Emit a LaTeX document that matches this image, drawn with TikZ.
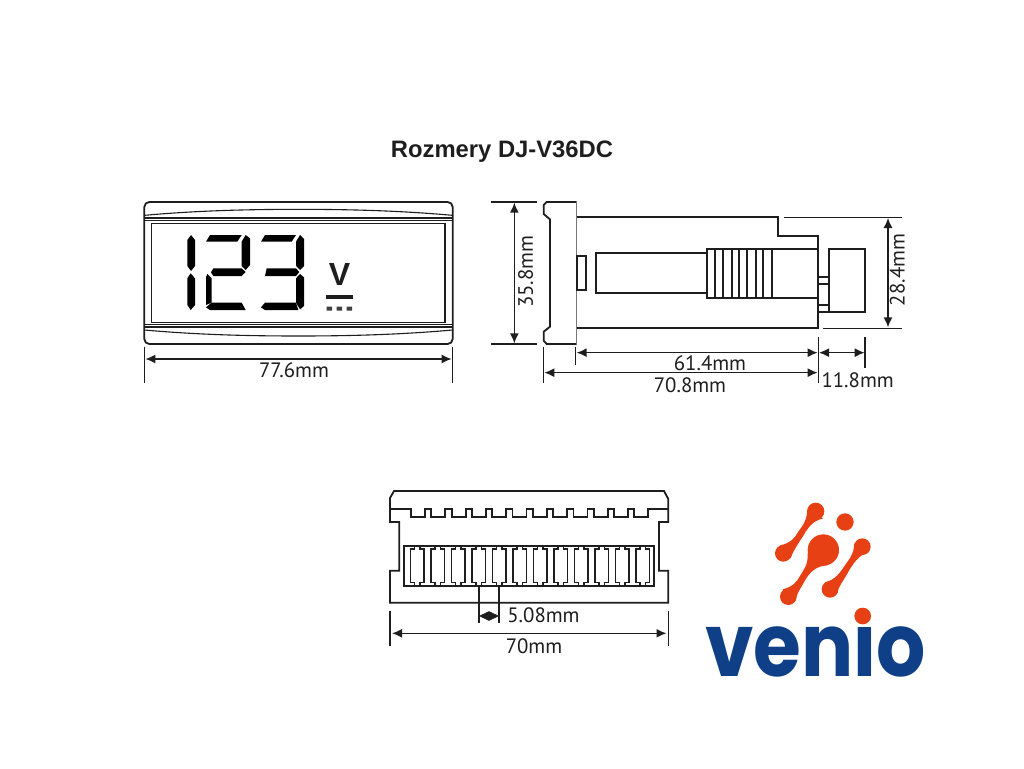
\documentclass[tikz,border=0pt]{standalone}
\usepackage{fontspec}
\usetikzlibrary{arrows.meta}
\setmainfont{Liberation Sans}
\newfontfamily\dimfont{PT Sans}
\newfontfamily\logofont{Poppins}
\definecolor{ink}{HTML}{1E1E1E}
\definecolor{logoorange}{HTML}{E84015}
\definecolor{logoblue}{HTML}{0F3F87}
\tikzset{
  part/.style={draw=ink,line width=1.8pt,line join=miter},
  thin part/.style={draw=ink,line width=1.1pt},
  ext/.style={draw=ink,line width=1.4pt},
  dimline/.style={draw=ink,line width=1.4pt,{Latex[length=10pt,width=9pt]}-{Latex[length=10pt,width=9pt]}},
  dimtext/.style={text=ink,inner sep=0pt,font=\dimfont\fontsize{20.8}{23}\selectfont},
  segment/.style={fill=black,draw=none},
  orange blob/.style={fill=logoorange,draw=none}
}
\begin{document}
\begin{tikzpicture}[x=1pt,y=-1pt]
\useasboundingbox[fill=white] (0,0) rectangle (1024,768);

\node[inner sep=0pt,font=\bfseries\fontsize{23.8}{26}\selectfont,text=ink] (title) at (502,152) {Rozmery DJ-V36DC};

% ---------- front view (coordinates of the first crop)
\begin{scope}[shift={(130,190)},scale=1/3]
  \draw[part,rounded corners=5pt] (43,36) rectangle (968,462);
  \draw[thin part] (43,76) .. controls (200,62) and (350,58) .. (505,58) .. controls (660,58) and (810,62) .. (968,76);
  \draw[thin part] (43,84) -- (968,84);
  \draw[thin part] (43,92) -- (968,92);
  \draw[draw=ink,line width=1.4pt] (65,101) rectangle (945,398);
  \draw[thin part] (43,404) -- (968,404);
  \draw[thin part] (43,411) -- (968,411);
  \draw[thin part] (43,420) .. controls (200,434) and (350,438) .. (505,438) .. controls (660,438) and (810,434) .. (968,420);
  % digits
  \fill[segment] (183,135) -- (195,150) -- (195,228) -- (183,243) -- (172,228) -- (172,150) -- cycle;
  \fill[segment] (182,250) -- (195,265) -- (195,345) -- (182,360) -- (172,345) -- (172,265) -- cycle;
  \fill[segment] (240,135) -- (335,135) -- (322,155) -- (228,155) -- cycle;
  \fill[segment] (347,135) -- (360,145) -- (360,225) -- (347,240) -- (335,228) -- (335,155) -- cycle;
  \fill[segment] (250,235) -- (335,235) -- (347,246) -- (335,258) -- (250,258) -- (243,247) -- cycle;
  \fill[segment] (232,252) -- (245,265) -- (245,338) -- (228,345) -- (228,262) -- cycle;
  \fill[segment] (228,352) -- (245,338) -- (335,338) -- (347,360) -- (240,360) -- cycle;
  \fill[segment] (393,155) -- (405,135) -- (498,135) -- (485,155) -- cycle;
  \fill[segment] (510,135) -- (522,147) -- (522,228) -- (510,240) -- (498,228) -- (498,155) -- cycle;
  \fill[segment] (405,258) -- (410,235) -- (498,235) -- (508,246) -- (498,258) -- cycle;
  \fill[segment] (510,252) -- (522,262) -- (522,348) -- (510,358) -- (498,338) -- (498,265) -- cycle;
  \fill[segment] (393,352) -- (405,338) -- (498,338) -- (505,360) -- (405,360) -- cycle;
  \node[inner sep=0pt,font=\bfseries\fontsize{32}{34}\selectfont,text=ink] (voltV) at (629,253) {V};
  \fill[ink] (588,315) rectangle (668,328);
  \fill[ink!85] (590,350) rectangle (606,362) (620,350) rectangle (636,362) (650,350) rectangle (666,362);
  % dimension
  \draw[ext] (43,470) -- (43,578);
  \draw[ext] (968,470) -- (968,578);
  \draw[dimline] (46,507) -- (965,507);
  \node[dimtext] (w776) at (492,541) {77.6mm};
\end{scope}

% ---------- side view, left half (second crop)
\begin{scope}[shift={(485,190)},scale=1/3]
  \draw[ext] (18,36) -- (157,36);
  \draw[ext] (18,462) -- (157,462);
  \draw[dimline] (88,38) -- (88,460);
  \node[dimtext,rotate=90] (h358) at (122,245) {35.8mm};
  \draw[part] (275,36) -- (185,36) -- (176,45) -- (176,72) -- (195,88) -- (195,410) -- (176,425) -- (176,452) -- (185,462) -- (275,462);
  \draw[draw=ink!60,line width=1.5pt] (275,36) -- (275,462);
  \draw[part] (275,198) rectangle (302,300);
  \draw[part] (333,188) rectangle (665,308);
  \draw[part] (275,82) -- (700,82);
  \draw[part] (275,415) -- (700,415);
  \draw[ext] (176,470) -- (176,578);
  \draw[ext] (272,470) -- (272,525);
\end{scope}

% ---------- side view, right half (third crop)
\begin{scope}[shift={(690,190)},scale=1/3]
  \draw[part] (-30,82) -- (263,82) -- (263,137) -- (385,137) -- (385,415) -- (-30,415);
  \draw[ext] (283,82) -- (637,82);
  \draw[ext] (400,415) -- (637,415);
  \draw[dimline] (594,84) -- (594,412);
  \node[dimtext,rotate=90] (h284) at (622,240) {28.4mm};
  \draw[part] (50,177) rectangle (245,323);
  \foreach \sx in {75,100,125,148,172,197,220} \draw[part] (\sx,177) -- (\sx,323);
  \draw[part] (245,177) -- (385,177);
  \draw[part] (245,323) -- (385,323);
  \draw[part] (416,177) rectangle (526,365);
  \draw[part] (385,262) rectangle (416,282);
  \draw[part] (385,345) rectangle (416,365);
  % dimensions
  \draw[ext] (385,440) -- (385,578);
  \draw[ext] (525,440) -- (525,535);
  \draw[dimline] (-340,488) -- (383,488);
  \draw[dimline] (-437,548) -- (383,548);
  \draw[dimline] (387,488) -- (524,488);
  \node[dimtext] (l614) at (60,520) {61.4mm};
  \node[dimtext] (l708) at (0,585) {70.8mm};
  \node[dimtext] (l118) at (503,571) {11.8mm};
\end{scope}

% ---------- terminal view
\draw[part] (394,491) -- (664,491) -- (668.3,499) -- (668.3,522) -- (659,522) -- (659,570.7) -- (668.3,570.7) -- (668.3,602.7) -- (390,602.7) -- (390,570.7) -- (399.3,570.7) -- (399.3,522) -- (390,522) -- (390,498) -- cycle;
\draw[part] (390,509) -- (411,509)
  \foreach \ti in {0,...,11} { -- ({411+\ti*20.3},517) -- ({425+\ti*20.3},517) -- ({425+\ti*20.3},509) -- ({431.3+\ti*20.3},509) }
  -- (668.3,509);
\draw[part] (404,545.7) rectangle (654.3,586);
\foreach \ci in {0,...,11} {
  \begin{scope}[shift={({410.7+\ci*20.5},0)}]
    \draw[thin part,line width=1.5pt] (0,549) -- (4,549) -- (4,545.7) -- (9.5,545.7) -- (9.5,549) -- (13.5,549) -- (13.5,582.5) -- (9.5,582.5) -- (9.5,586) -- (4,586) -- (4,582.5) -- (0,582.5) -- cycle;
  \end{scope}
}
\draw[ext] (479,587) -- (479,622.7);
\draw[ext] (499,587) -- (499,622.7);
\draw[draw=ink,fill=ink] (479.5,616) -- (489,611.5) -- (498.5,616) -- (489,620.5) -- cycle;
\node[dimtext] (p508) at (543.5,615) {5.08mm};
\draw[ext] (390,610.7) -- (390,646);
\draw[ext] (668.3,610.7) -- (668.3,646);
\draw[dimline] (392,633.3) -- (666.5,633.3);
\node[dimtext] (w70) at (534,646) {70mm};

% ---------- logo (sixth crop)
\node[inner sep=0pt,text=logoblue,font=\logofont\bfseries\fontsize{88}{90}\selectfont,xscale=0.88,anchor=base] (venio) at (815.5,676.5) {venio};
\fill[white] (850,598) rectangle (878,627.3);
\begin{scope}[shift={(700,490)},scale=1/3]
  \fill[orange blob] (347,64) circle[radius=26] (250,190) circle[radius=25] (435,96) circle[radius=26] (370,180) circle[radius=47] (265,320) circle[radius=25] (487,170) circle[radius=25] (390,298) circle[radius=25] (488,378) circle[radius=25];
  \fill[orange blob] (322,60) .. controls (320,100) and (300,115) .. (293,128) .. controls (285,142) and (272,160) .. (240,166) -- (272,205) .. controls (278,185) and (295,160) .. (310,137) .. controls (320,120) and (335,92) .. (370,85) -- cycle;
  \fill[orange blob] (323,190) .. controls (325,225) and (310,240) .. (300,258) .. controls (290,275) and (280,290) .. (248,298) -- (285,335) .. controls (290,310) and (305,290) .. (317,268) .. controls (328,250) and (345,228) .. (385,225) -- cycle;
  \fill[orange blob] (463,160) .. controls (462,195) and (445,210) .. (432,230) .. controls (420,248) and (405,270) .. (375,277) -- (408,315) .. controls (415,290) and (435,265) .. (448,240) .. controls (460,222) and (475,195) .. (505,187) -- cycle;
\end{scope}
\end{tikzpicture}
\end{document}
